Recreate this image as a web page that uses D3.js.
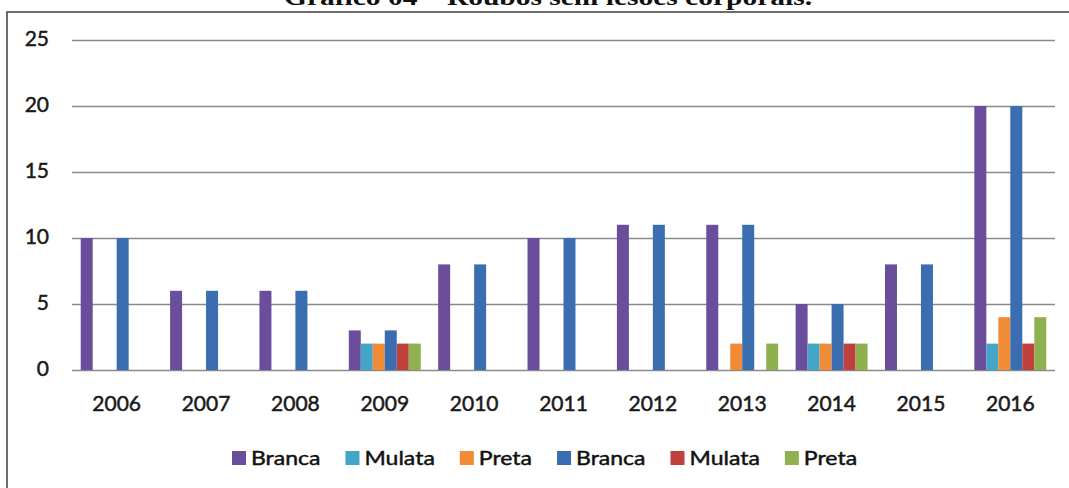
<!DOCTYPE html>
<html>
<head>
<meta charset="utf-8">
<script src="https://cdn.jsdelivr.net/npm/d3@7"></script>
<style>
  html, body { margin: 0; padding: 0; background: #fff; }
  svg { display: block; }
</style>
</head>
<body>
<svg id="chart" width="1069" height="488"></svg>
<script>
// Robberies without bodily injury, by year and group
const years = ["2006", "2007", "2008", "2009", "2010", "2011", "2012", "2013", "2014", "2015", "2016"];
const seriesNames = ["Branca", "Mulata", "Preta", "Branca", "Mulata", "Preta"];
const seriesColors = ["#6b4e9b", "#44a6c6", "#f08c36", "#3a6eb0", "#bf403c", "#8fb04e"];
const branca1 = [10, 6, 6, 3, 8, 10, 11, 11, 5, 8, 20];
const mulata1 = [0, 0, 0, 2, 0, 0, 0, 0, 2, 0, 2];
const preta1  = [0, 0, 0, 2, 0, 0, 0, 2, 2, 0, 4];
const branca2 = [10, 6, 6, 3, 8, 10, 11, 11, 5, 8, 20];
const mulata2 = [0, 0, 0, 2, 0, 0, 0, 0, 2, 0, 2];
const preta2  = [0, 0, 0, 2, 0, 0, 0, 2, 2, 0, 4];
const yTicks = [0, 5, 10, 15, 20, 25];
const titleText = "Gráfico 04 – Roubos sem lesões corporais.";

const seriesValues = [branca1, mulata1, preta1, branca2, mulata2, preta2];

const svg = d3.select("#chart");
const W = 1069, H = 488;
const plot = { left: 72, right: 1055, top: 40, bottom: 370 };
const FONT = "Lato, 'Open Sans', sans-serif";

// outer frame
svg.append("rect")
  .attr("x", 7).attr("y", 12)
  .attr("width", W + 10).attr("height", H + 10)
  .attr("fill", "none").attr("stroke", "#3c3c3c").attr("stroke-width", 1.5);

// title (sits above the frame)
svg.append("text")
  .attr("x", 548).attr("y", 5)
  .attr("text-anchor", "middle")
  .attr("font-family", "'Liberation Serif', 'Times New Roman', serif")
  .attr("font-weight", "bold")
  .attr("font-size", 24)
  .attr("textLength", 528)
  .attr("lengthAdjust", "spacingAndGlyphs")
  .attr("fill", "#111")
  .text(titleText);

const x = d3.scaleBand().domain(years)
  .range([plot.left, plot.right]).paddingInner(0.195).paddingOuter(0.0975);
const xs = d3.scaleBand().domain(d3.range(seriesNames.length))
  .range([0, x.bandwidth()]).padding(0);
const y = d3.scaleLinear().domain([0, 25]).range([plot.bottom, plot.top]);

// horizontal gridlines
const yAxis = d3.axisLeft(y).tickValues(yTicks).tickSize(-(plot.right - plot.left)).tickPadding(23).tickFormat(d3.format("d"));
const gy = svg.append("g").attr("transform", `translate(${plot.left},0)`).call(yAxis);
gy.select(".domain").remove();
gy.selectAll(".tick line").attr("stroke", "#8a8a8a").attr("stroke-width", 1.3);
gy.selectAll(".tick text")
  .attr("font-family", FONT).attr("font-size", 21).attr("fill", "#1a1a1a")
  .attr("stroke", "#1a1a1a").attr("stroke-width", 0.5)
  .attr("dy", "0.26em");

// bars
const groups = svg.append("g").selectAll("g")
  .data(years)
  .join("g")
  .attr("transform", d => `translate(${x(d)},0)`);

groups.selectAll("rect")
  .data((yr, i) => seriesValues.map((vals, s) => ({ s, v: vals[i] })))
  .join("rect")
  .attr("x", d => xs(d.s))
  .attr("width", xs.bandwidth())
  .attr("y", d => y(d.v))
  .attr("height", d => y(0) - y(d.v))
  .attr("fill", d => seriesColors[d.s]);

// category labels
const xAxis = d3.axisBottom(x).tickSize(0).tickPadding(0);
const gx = svg.append("g").attr("transform", `translate(0,${plot.bottom})`).call(xAxis);
gx.select(".domain").remove();
gx.selectAll(".tick text")
  .attr("font-family", FONT).attr("font-size", 21).attr("fill", "#1a1a1a")
  .attr("stroke", "#1a1a1a").attr("stroke-width", 0.5)
  .attr("y", 41).attr("dy", 0);

// legend
const legend = svg.append("g").attr("transform", "translate(232,0)");
let lx = 0;
const sw = 14, legY = 458, stretch = 1.18;
seriesNames.forEach((name, i) => {
  const item = legend.append("g").attr("transform", `translate(${lx},0)`);
  item.append("rect")
    .attr("x", 0).attr("y", legY - sw / 2)
    .attr("width", sw).attr("height", sw)
    .attr("fill", seriesColors[i]);
  const t = item.append("text")
    .attr("transform", `translate(${sw + 5},${legY + 7}) scale(${stretch},1)`)
    .attr("font-family", FONT).attr("font-size", 19.5).attr("fill", "#111")
    .attr("stroke", "#111").attr("stroke-width", 0.45)
    .text(name);
  const w = t.node().getComputedTextLength() * stretch;
  lx += sw + 5 + w + 25;
});
</script>
</body>
</html>
